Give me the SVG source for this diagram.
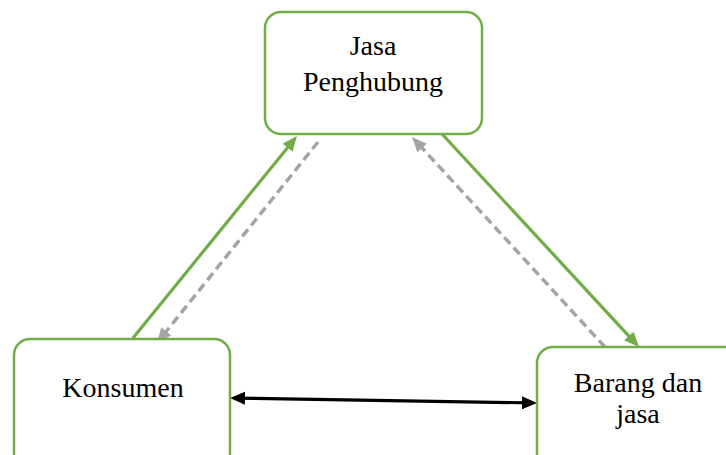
<svg xmlns="http://www.w3.org/2000/svg" width="726" height="455" viewBox="0 0 726 455">
  <style>
    .box { fill: #ffffff; stroke: #70AD47; stroke-width: 2.5; }
    .lbl { font-family: "Liberation Serif", "Times New Roman", serif; font-size: 28px; fill: #000000; text-anchor: middle; }
    .g { stroke: #70AD47; stroke-width: 3.2; fill: none; marker-end: url(#ag); }
    .d { stroke: #A5A5A5; stroke-width: 3.5; fill: none; stroke-dasharray: 9 5; marker-end: url(#ad); }
    .k { stroke: #000000; stroke-width: 3.2; fill: none; marker-start: url(#ak); marker-end: url(#ak); }
  </style>
  <defs>
    <marker id="ag" markerUnits="userSpaceOnUse" markerWidth="18" markerHeight="16" refX="10" refY="6.5" orient="auto">
      <path d="M0,0 L15,6.5 L0,13 z" fill="#70AD47"/>
    </marker>
    <marker id="ad" markerUnits="userSpaceOnUse" markerWidth="18" markerHeight="16" refX="10" refY="6.5" orient="auto">
      <path d="M0,0 L15,6.5 L0,13 z" fill="#A5A5A5"/>
    </marker>
    <marker id="ak" markerUnits="userSpaceOnUse" markerWidth="18" markerHeight="16" refX="11" refY="6.5" orient="auto-start-reverse">
      <path d="M0,0 L15,6.5 L0,13 z" fill="#000000"/>
    </marker>
  </defs>
  <rect width="726" height="455" fill="#ffffff"/>
  <g id="connectors">
    <path class="g" d="M133,338 L293.8,140"/>
    <path class="d" d="M318,142 L160.1,339.1"/>
    <path class="g" d="M442,134 L635.6,343.3"/>
    <path class="d" d="M605,347 L415.4,140.7"/>
    <path class="k" d="M234,398.1 L533,402.9"/>
  </g>
  <g id="jasa-penghubung">
    <rect class="box" x="265" y="12" width="217" height="122" rx="16"/>
    <text class="lbl" x="373" y="55">Jasa</text>
    <text class="lbl" x="373" y="91">Penghubung</text>
  </g>
  <g id="konsumen">
    <rect class="box" x="14" y="339" width="216" height="130" rx="16"/>
    <text class="lbl" x="123" y="397">Konsumen</text>
  </g>
  <g id="barang-dan-jasa">
    <rect class="box" x="537" y="347" width="216" height="130" rx="16"/>
    <text class="lbl" x="638" y="392">Barang dan</text>
    <text class="lbl" x="638" y="423">jasa</text>
  </g>
</svg>
